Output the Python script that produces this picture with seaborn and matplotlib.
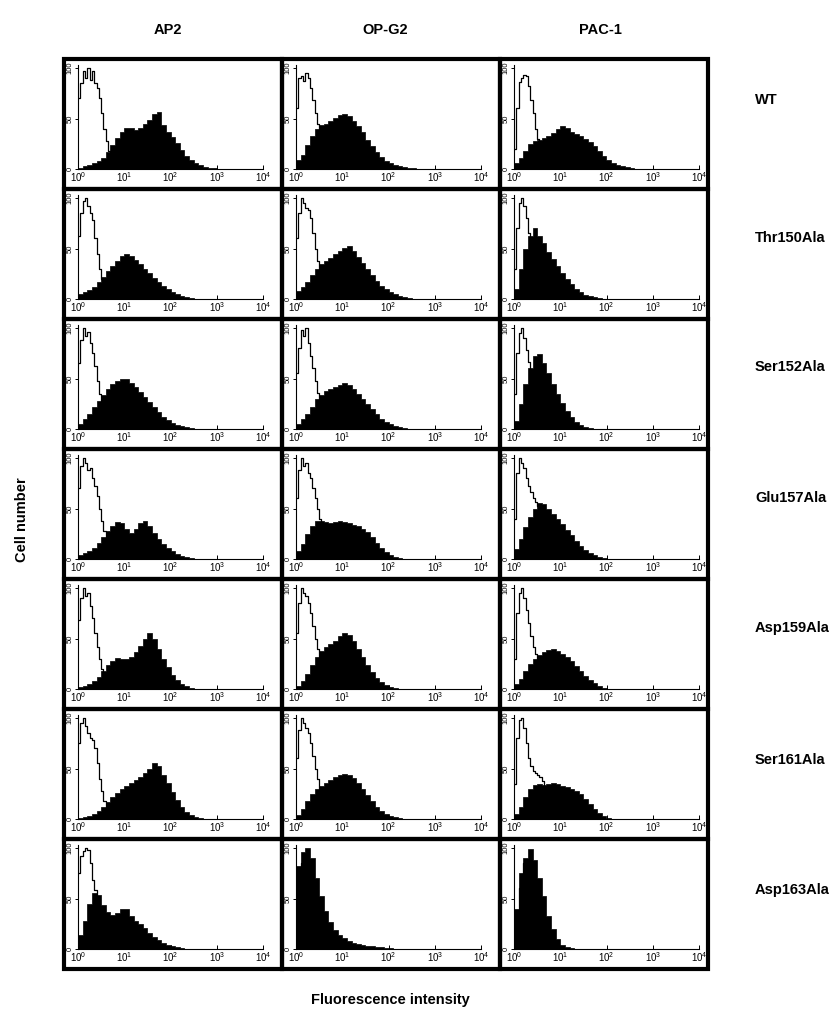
import numpy as np
import pandas as pd
import matplotlib.pyplot as plt
from matplotlib.patches import Rectangle
import seaborn as sns

antibodies = ["AP2", "OP-G2", "PAC-1"]
mutants = ["WT", "Thr150Ala", "Ser152Ala", "Glu157Ala", "Asp159Ala", "Ser161Ala", "Asp163Ala"]

# filled histograms (sample), channels of 0.1 decade starting at 10^0
wt_ap2 = [1, 3, 4, 6, 8, 11, 17, 24, 31, 37, 41, 41, 39, 41, 45, 49, 54, 56, 44, 37, 32, 26, 19, 13, 9, 6, 4, 2, 1, 1]
wt_opg2 = [9, 14, 24, 33, 40, 44, 45, 48, 51, 53, 54, 52, 48, 43, 37, 29, 23, 17, 12, 8, 6, 4, 3, 2, 1, 1]
wt_pac1 = [6, 11, 18, 25, 28, 29, 31, 33, 36, 40, 43, 41, 37, 35, 33, 30, 27, 23, 18, 13, 9, 6, 4, 3, 2, 1]
thr_ap2 = [5, 7, 9, 12, 17, 22, 28, 33, 38, 43, 45, 43, 39, 35, 30, 26, 21, 17, 13, 10, 7, 5, 3, 2, 1]
thr_opg2 = [8, 12, 17, 24, 30, 35, 38, 41, 45, 48, 51, 52, 48, 42, 36, 30, 24, 18, 13, 10, 7, 5, 3, 2, 1]
thr_pac1 = [10, 30, 50, 62, 70, 62, 55, 47, 40, 33, 26, 20, 15, 10, 7, 4, 3, 2, 1]
ser152_ap2 = [5, 10, 15, 22, 28, 34, 40, 45, 48, 50, 50, 46, 42, 37, 32, 27, 22, 17, 12, 9, 6, 4, 3, 2, 1]
ser152_opg2 = [5, 10, 15, 22, 30, 34, 38, 40, 42, 44, 46, 44, 40, 35, 30, 25, 20, 15, 10, 7, 5, 3, 2, 1]
ser152_pac1 = [8, 25, 45, 60, 72, 74, 65, 55, 45, 35, 26, 18, 12, 7, 4, 2, 1]
glu_ap2 = [4, 6, 8, 11, 16, 22, 28, 33, 37, 36, 30, 26, 30, 36, 38, 33, 26, 20, 15, 11, 8, 5, 3, 2, 1]
glu_opg2 = [8, 15, 25, 33, 38, 38, 37, 36, 37, 38, 37, 36, 34, 33, 30, 27, 22, 16, 11, 7, 4, 2, 1]
glu_pac1 = [10, 20, 32, 42, 50, 55, 54, 50, 45, 40, 35, 29, 24, 18, 13, 9, 6, 4, 2, 1]
asp159_ap2 = [2, 3, 5, 8, 12, 18, 24, 28, 31, 30, 30, 32, 37, 43, 50, 55, 50, 40, 30, 22, 14, 9, 5, 3, 1]
asp159_opg2 = [3, 8, 15, 24, 32, 38, 42, 45, 48, 52, 55, 53, 48, 40, 32, 24, 17, 11, 7, 4, 2, 1]
asp159_pac1 = [5, 10, 18, 25, 30, 34, 37, 39, 40, 38, 35, 32, 28, 23, 18, 13, 9, 6, 3, 1]
ser161_ap2 = [1, 2, 3, 5, 8, 12, 17, 22, 26, 30, 33, 36, 39, 42, 46, 50, 55, 52, 44, 36, 27, 19, 12, 7, 4, 2, 1]
ser161_opg2 = [4, 10, 18, 25, 30, 33, 36, 39, 42, 44, 45, 44, 41, 36, 30, 24, 18, 12, 8, 5, 3, 2, 1]
ser161_pac1 = [5, 12, 22, 30, 34, 35, 34, 35, 36, 35, 33, 32, 30, 28, 25, 20, 15, 10, 6, 3, 1]
asp163_ap2 = [14, 28, 45, 55, 53, 44, 37, 34, 36, 40, 40, 33, 28, 25, 21, 16, 12, 9, 6, 4, 3, 2, 1]
asp163_opg2 = [82, 96, 100, 90, 70, 52, 38, 27, 19, 14, 11, 8, 6, 5, 4, 3, 3, 2, 2, 1, 1]
asp163_pac1 = [40, 75, 90, 99, 88, 70, 52, 33, 20, 10, 4, 2, 1]

# open histograms (control), channels of 0.05 decade starting at 10^0
wt_ap2_c = [70, 85, 97, 90, 100, 88, 97, 85, 80, 70, 55, 40, 28, 18, 10, 5, 2, 1]
wt_opg2_c = [60, 90, 92, 87, 95, 90, 80, 68, 55, 45, 35, 25, 15, 8, 4, 2, 1]
wt_pac1_c = [20, 60, 86, 90, 93, 92, 82, 68, 55, 40, 30, 20, 12, 6, 3, 1]
thr_ap2_c = [62, 85, 97, 100, 92, 85, 78, 60, 45, 30, 20, 12, 7, 4, 2, 1]
thr_opg2_c = [60, 85, 100, 95, 90, 88, 80, 65, 50, 38, 28, 20, 12, 6, 3, 1]
thr_pac1_c = [30, 70, 95, 100, 92, 80, 65, 55, 45, 35, 25, 15, 8, 4, 2, 1]
ser152_ap2_c = [65, 88, 100, 92, 96, 85, 75, 62, 48, 35, 25, 16, 9, 5, 2, 1]
ser152_opg2_c = [55, 80, 98, 92, 100, 85, 72, 60, 48, 36, 26, 17, 10, 5, 2, 1]
ser152_pac1_c = [35, 75, 95, 100, 90, 78, 66, 55, 45, 35, 25, 15, 8, 4, 2, 1]
glu_ap2_c = [70, 92, 100, 95, 88, 90, 80, 72, 62, 50, 38, 28, 18, 10, 5, 2, 1]
glu_opg2_c = [60, 88, 100, 92, 95, 85, 80, 70, 60, 50, 40, 32, 22, 14, 8, 4, 2, 1]
glu_pac1_c = [40, 85, 100, 95, 90, 80, 72, 66, 60, 56, 52, 48, 40, 30, 20, 12, 6, 2]
asp159_ap2_c = [68, 90, 100, 92, 95, 82, 70, 55, 42, 30, 20, 12, 7, 4, 2, 1]
asp159_opg2_c = [55, 85, 100, 95, 92, 85, 75, 62, 50, 40, 30, 20, 12, 6, 3, 1]
asp159_pac1_c = [30, 75, 95, 100, 90, 78, 65, 52, 42, 35, 28, 20, 12, 6, 3, 1]
ser161_ap2_c = [75, 95, 100, 92, 85, 80, 78, 70, 55, 40, 28, 18, 10, 5, 2, 1]
ser161_opg2_c = [60, 88, 100, 95, 90, 85, 75, 62, 50, 40, 30, 20, 12, 6, 3, 1]
ser161_pac1_c = [35, 80, 98, 100, 90, 75, 60, 52, 48, 46, 44, 42, 38, 30, 20, 12, 6, 2]
asp163_ap2_c = [75, 92, 97, 100, 98, 85, 68, 58, 50, 40, 30, 20, 12, 7, 3, 1]
asp163_opg2_c = [60, 75, 85, 90, 88, 82, 70, 55, 40, 28, 18, 10, 5, 2, 1]
asp163_pac1_c = [30, 38, 60, 72, 85, 88, 80, 70, 60, 45, 30, 18, 8, 3, 1]

samples = [
    [wt_ap2, wt_opg2, wt_pac1],
    [thr_ap2, thr_opg2, thr_pac1],
    [ser152_ap2, ser152_opg2, ser152_pac1],
    [glu_ap2, glu_opg2, glu_pac1],
    [asp159_ap2, asp159_opg2, asp159_pac1],
    [ser161_ap2, ser161_opg2, ser161_pac1],
    [asp163_ap2, asp163_opg2, asp163_pac1],
]
controls = [
    [wt_ap2_c, wt_opg2_c, wt_pac1_c],
    [thr_ap2_c, thr_opg2_c, thr_pac1_c],
    [ser152_ap2_c, ser152_opg2_c, ser152_pac1_c],
    [glu_ap2_c, glu_opg2_c, glu_pac1_c],
    [asp159_ap2_c, asp159_opg2_c, asp159_pac1_c],
    [ser161_ap2_c, ser161_opg2_c, ser161_pac1_c],
    [asp163_ap2_c, asp163_opg2_c, asp163_pac1_c],
]


def to_frame(vals, width):
    # channel centres on the log axis, one row per channel
    centres = width / 2 + width * np.arange(len(vals))
    return pd.DataFrame({"intensity": 10 ** centres, "count": vals})


sns.set_theme(style="ticks")
plt.rcParams["font.family"] = ["Liberation Sans", "DejaVu Sans"]
plt.rcParams["mathtext.default"] = "regular"
for key in ("text.color", "axes.labelcolor", "xtick.color", "ytick.color"):
    plt.rcParams[key] = "black"

W, H = 839, 1023
fig = plt.figure(figsize=(W / 100, H / 100), dpi=100)

col_edges = [64, 282, 500, 708]
row_top0, row_h = 59, 130


def fig_box(x, y, w, h):
    # pixel box (top-left origin) -> figure fraction
    return [x / W, 1 - (y + h) / H, w / W, h / H]


for r, mut in enumerate(mutants):
    top = row_top0 + r * row_h
    for c, ab in enumerate(antibodies):
        left = col_edges[c]
        cw = col_edges[c + 1] - left
        fig.add_artist(Rectangle((left / W, 1 - (top + row_h) / H), cw / W, row_h / H,
                                 transform=fig.transFigure, fill=False, lw=3, ec="black"))
        ax = fig.add_axes(fig_box(left + 14, top + 6, 185, 104))

        s = samples[r][c]
        k = controls[r][c]
        sns.histplot(data=to_frame(s, 0.1), x="intensity", weights="count",
                     binwidth=0.1, binrange=(0, 0.1 * len(s)), log_scale=True,
                     element="step", fill=True, color="black", alpha=1,
                     linewidth=0.5, ax=ax)
        sns.histplot(data=to_frame(k, 0.05), x="intensity", weights="count",
                     binwidth=0.05, binrange=(0, 0.05 * len(k)), log_scale=True,
                     element="step", fill=False, color="black", linewidth=0.9, ax=ax)

        ax.set_xlim(1, 1e4)
        ax.set_ylim(0, 103)
        ax.set(xlabel="", ylabel="")
        ax.set_xticks([1, 10, 100, 1000, 10000])
        ax.set_xticklabels(["$10^0$", "$10^1$", "$10^2$", "$10^3$", "$10^4$"], fontsize=7)
        ax.set_yticks([0, 50, 100])
        ax.set_yticklabels(["0", "50", "100"], fontsize=5.5, rotation=90, va="center")
        ax.tick_params(axis="x", which="major", direction="in", length=3, width=0.7, pad=1)
        ax.tick_params(axis="x", which="minor", direction="in", length=1.8, width=0.5)
        ax.tick_params(axis="y", length=2, width=0.7, pad=1)
        sns.despine(ax=ax)
        for sp in ("left", "bottom"):
            ax.spines[sp].set_linewidth(0.8)
            ax.spines[sp].set_color("black")

# column headers
for x, ab in zip([168, 385, 600], antibodies):
    fig.text(x / W, 1 - 30 / H, ab, ha="center", va="center", fontsize=10.5, fontweight="bold")

# row labels
for y, mut in zip([100, 238, 367, 498, 628, 760, 890], mutants):
    fig.text(755 / W, 1 - y / H, mut, ha="left", va="center", fontsize=10.5, fontweight="bold")

fig.text(22 / W, 1 - 520 / H, "Cell number", rotation=90, ha="center", va="center",
         fontsize=10.5, fontweight="bold")
fig.text(390 / W, 1 - 1000 / H, "Fluorescence intensity", ha="center", va="center",
         fontsize=10.5, fontweight="bold")

fig.savefig("out.png", dpi=100)
